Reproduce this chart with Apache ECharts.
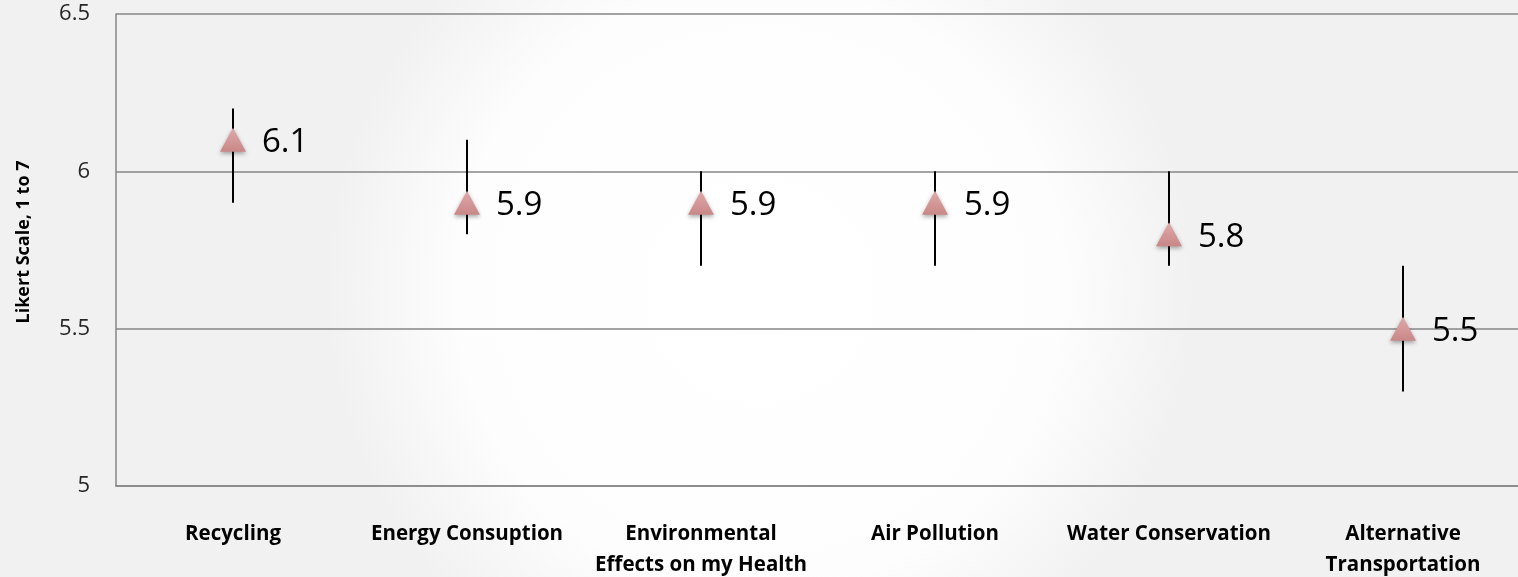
<!DOCTYPE html>
<html><head><meta charset="utf-8">
<script src="https://cdn.jsdelivr.net/npm/echarts@6/dist/echarts.min.js"></script>
<style>html,body{margin:0;padding:0;}#c{width:1518px;height:577px;}</style>
</head><body><div id="c"></div>
<script>
const categories = ['Recycling', 'Energy Consuption', 'Environmental\nEffects on my Health', 'Air Pollution', 'Water Conservation', 'Alternative\nTransportation'];
const means = [6.1, 5.9, 5.9, 5.9, 5.8, 5.5];
const lows = [5.9, 5.8, 5.7, 5.7, 5.7, 5.3];
const highs = [6.2, 6.1, 6.0, 6.0, 6.0, 5.7];
const yTicks = [5, 5.5, 6, 6.5];
const yName = 'Likert Scale, 1 to 7';

const chart = echarts.init(document.getElementById('c'));
chart.setOption({
  backgroundColor: {
    type: 'radial', x: 0.5, y: 0.5, r: 0.75,
    colorStops: [{offset: 0, color: '#ffffff'}, {offset: 0.7, color: '#fdfdfd'}, {offset: 1, color: '#f1f1f1'}]
  },
  animation: false,
  grid: {left: 116, top: 14, width: 1404, height: 472, containLabel: false, outerBoundsMode: 'none'},
  graphic: [{
    type: 'text', x: 24, y: 242, rotation: Math.PI / 2,
    style: {text: yName, fill: '#000', font: 'bold 18px "Open Sans"', align: 'center', verticalAlign: 'middle'}
  }],
  xAxis: {
    type: 'category', data: categories,
    axisLine: {lineStyle: {color: '#868686', width: 1.5}},
    axisTick: {show: false},
    axisLabel: {interval: 0, margin: 33, color: '#000', fontWeight: 'bold', fontSize: 20.5, lineHeight: 31, fontFamily: 'Open Sans'}
  },
  yAxis: {
    type: 'value', min: yTicks[0], max: yTicks[yTicks.length - 1], interval: 0.5,
    axisLine: {show: true, lineStyle: {color: '#868686', width: 1.5}},
    axisTick: {show: false},
    splitLine: {lineStyle: {color: '#868686', width: 1.5}},
    axisLabel: {margin: 26, color: '#262626', fontSize: 22, fontFamily: 'Open Sans', formatter: v => String(v)}
  },
  series: [
    {
      type: 'custom',
      data: categories.map((c, i) => [i, lows[i], highs[i]]),
      renderItem: function (params, api) {
        const p1 = api.coord([api.value(0), api.value(1)]);
        const p2 = api.coord([api.value(0), api.value(2)]);
        return {type: 'line', shape: {x1: p1[0], y1: p1[1], x2: p2[0], y2: p2[1]}, style: {stroke: '#000', lineWidth: 2}};
      },
      z: 2
    },
    {
      type: 'scatter',
      data: means,
      symbol: 'triangle',
      symbolSize: [26, 24],
      z: 3,
      itemStyle: {
        color: {type: 'linear', x: 0, y: 0, x2: 0, y2: 1, colorStops: [{offset: 0, color: '#dfa9a9'}, {offset: 1, color: '#c98787'}]},
        shadowBlur: 4, shadowColor: 'rgba(0,0,0,0.35)', shadowOffsetY: 2, opacity: 1
      },
      label: {show: true, position: 'right', distance: 16, offset: [0, 3], color: '#000', fontSize: 33, fontFamily: 'Open Sans', formatter: p => p.value.toFixed(1)}
    }
  ]
});
</script></body></html>
